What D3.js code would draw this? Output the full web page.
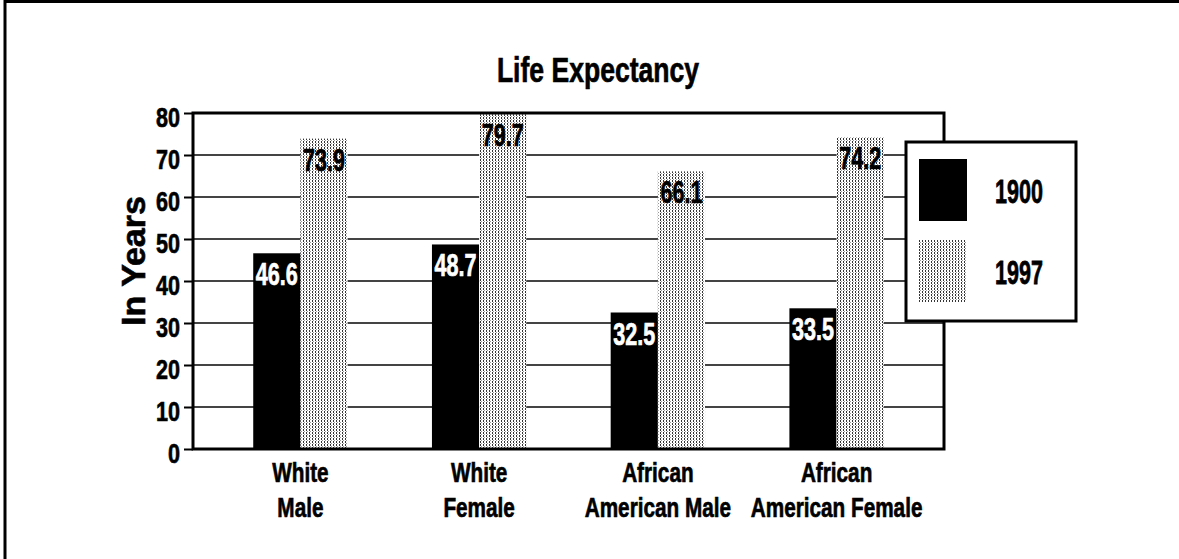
<!DOCTYPE html>
<meta charset="utf-8">
<style>
body { margin: 0; background: #fff; }
text { font-family: "Liberation Sans", Arial, sans-serif; font-weight: bold; fill: #000; stroke: #000; stroke-width: 0.6px; }
</style>
<body>
<script src="https://d3js.org/d3.v7.min.js"></script>
<script>
var width = 1179,
    height = 559;

var categories = [["White", "Male"], ["White", "Female"], ["African", "American Male"], ["African", "American Female"]];
var years = ["1900", "1997"];
var values1900 = [46.6, 48.7, 32.5, 33.5];
var values1997 = [73.9, 79.7, 66.1, 74.2];
var yTicks = [0, 10, 20, 30, 40, 50, 60, 70, 80];

var svg = d3.select("body").append("svg")
    .attr("width", width)
    .attr("height", height);

// condensed look: squeeze text horizontally
var sx = 0.83;

var defs = svg.append("defs");
var pat = defs.append("pattern")
    .attr("id", "dots")
    .attr("width", 3)
    .attr("height", 3)
    .attr("patternUnits", "userSpaceOnUse");
pat.append("rect").attr("width", 3).attr("height", 3).attr("fill", "#fff");
pat.append("rect").attr("x", 0).attr("y", 0).attr("width", 1).attr("height", 2).attr("fill", "#333");
pat.append("rect").attr("x", 1).attr("y", 2).attr("width", 1).attr("height", 1).attr("fill", "#999");

// page border (top + left only)
svg.append("line").attr("x1", 4).attr("x2", width).attr("y1", 1.5).attr("y2", 1.5)
    .attr("stroke", "#000").attr("stroke-width", 3);
svg.append("line").attr("x1", 5).attr("x2", 5).attr("y1", 0).attr("y2", height)
    .attr("stroke", "#000").attr("stroke-width", 3);

var pLeft = 193, pRight = 944, pTop = 113, pBottom = 449;

var y = d3.scaleLinear().domain([0, 80]).range([pBottom, pTop]);
var x0 = d3.scaleBand()
    .domain(d3.range(categories.length))
    .range([pLeft, pRight])
    .paddingInner(0.472)
    .paddingOuter(0.337);
var x1 = d3.scaleBand().domain(years).range([0, x0.bandwidth()]);
var fills = { "1900": "#000", "1997": "url(#dots)" };

// gridlines
svg.append("g").selectAll("line")
    .data(yTicks.slice(1, -1))
    .join("line")
    .attr("x1", pLeft).attr("x2", pRight)
    .attr("y1", d => y(d)).attr("y2", d => y(d))
    .attr("stroke", "#444").attr("stroke-width", 2);

// bars
var series = years.map((yr, k) => ({ year: yr, values: k === 0 ? values1900 : values1997 }));
var groups = svg.append("g").selectAll("g")
    .data(series)
    .join("g");
groups.selectAll("rect")
    .data(s => s.values.map((v, i) => ({ year: s.year, v: v, i: i })))
    .join("rect")
    .attr("x", d => x0(d.i) + x1(d.year))
    .attr("y", d => y(d.v))
    .attr("width", x1.bandwidth())
    .attr("height", d => y(0) - y(d.v))
    .attr("fill", d => fills[d.year]);

groups.selectAll("text")
    .data(s => s.values.map((v, i) => ({ year: s.year, v: v, i: i })))
    .join("text")
    .attr("text-anchor", "middle")
    .attr("font-size", 26)
    .attr("transform", d => "translate(" + (x0(d.i) + x1(d.year) + x1.bandwidth() / 2) + "," + (y(d.v) + 32) + ") scale(" + sx + ",1.23)")
    .style("fill", d => d.year === "1900" ? "#fff" : "#000")
    .style("stroke", d => d.year === "1900" ? "#fff" : "#000")
    .text(d => d.v.toFixed(1));

// frame
svg.append("rect")
    .attr("x", pLeft).attr("y", pTop)
    .attr("width", pRight - pLeft).attr("height", pBottom - pTop)
    .attr("fill", "none").attr("stroke", "#000").attr("stroke-width", 3);

// y axis
var yAxis = d3.axisLeft(y).tickValues(yTicks).tickSize(9).tickPadding(4);
var ag = svg.append("g").attr("transform", "translate(" + pLeft + ",0)").call(yAxis);
ag.select(".domain").remove();
ag.attr("font-family", null).attr("font-size", null);
ag.selectAll(".tick line").attr("stroke", "#000").attr("stroke-width", 2);
ag.selectAll(".tick text")
    .attr("font-size", 26)
    .attr("x", -13 / sx)
    .attr("dy", "0.5em")
    .attr("transform", "scale(" + sx + ",1.07)")
    .style("fill", "#000");

// category labels
var cat = svg.append("g").selectAll("text")
    .data(categories)
    .join("text")
    .attr("text-anchor", "middle")
    .attr("font-size", 25);
cat.each(function(d, i) {
  var cx = x0(i) + x0.bandwidth() / 2;
  d3.select(this).selectAll("tspan")
    .data(d)
    .join("tspan")
    .attr("x", 0)
    .attr("y", (t, j) => j * 31)
    .text(t => t);
  d3.select(this).attr("transform", "translate(" + cx + ",482) scale(" + sx + ",1.13)");
});

// title
svg.append("text")
    .attr("text-anchor", "middle")
    .attr("font-size", 32)
    .attr("transform", "translate(598,82) scale(" + sx + ",1.09)")
    .text("Life Expectancy");

// y title
svg.append("text")
    .attr("text-anchor", "middle")
    .attr("font-size", 34)
    .attr("transform", "translate(145,261) rotate(-90)")
    .text("In Years");

// legend
var lg = svg.append("g");
lg.append("rect")
    .attr("x", 906).attr("y", 142).attr("width", 170).attr("height", 179)
    .attr("fill", "#fff").attr("stroke", "#000").attr("stroke-width", 3);
var li = lg.selectAll("g.item")
    .data(years)
    .join("g")
    .attr("class", "item")
    .attr("transform", (d, i) => "translate(919," + (159 + i * 81) + ")");
li.append("rect")
    .attr("width", 48).attr("height", 62)
    .attr("fill", d => fills[d]);
li.append("text")
    .attr("text-anchor", "middle")
    .attr("font-size", 26)
    .attr("transform", "translate(100,44) scale(" + sx + ",1.27)")
    .text(d => d);
</script>
</body>
